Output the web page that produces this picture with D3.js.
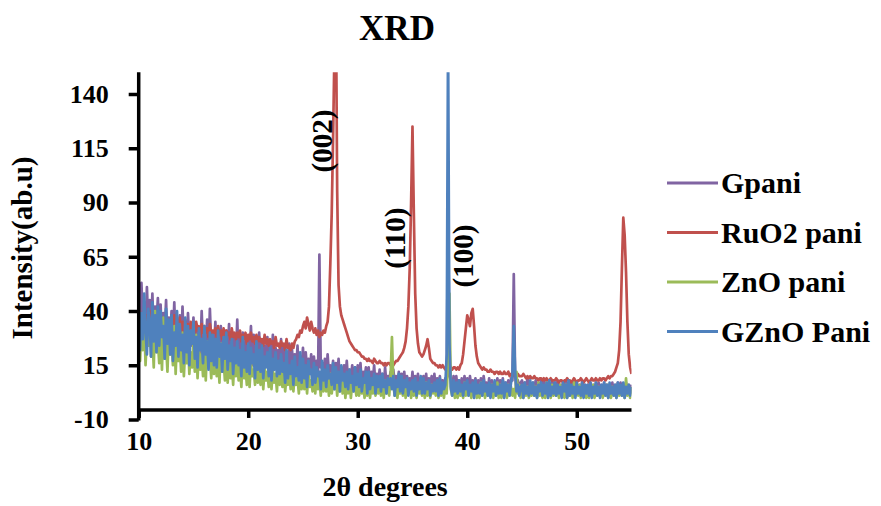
<!DOCTYPE html>
<html><head><meta charset="utf-8">
<script src="https://cdn.jsdelivr.net/npm/d3@7"></script>
<style>body{margin:0;background:#fff}</style>
</head><body><svg id="c" width="881" height="506"></svg>
<script>
const twoTheta = [
10,10.125,10.25,10.375,10.5,10.625,10.75,10.875, 11,11.125,11.25,11.375,11.5,11.625,11.75,11.875,
12,12.125,12.25,12.375,12.5,12.625,12.75,12.875, 13,13.125,13.25,13.375,13.5,13.625,13.75,13.875,
14,14.125,14.25,14.375,14.5,14.625,14.75,14.875, 15,15.125,15.25,15.375,15.5,15.625,15.75,15.875,
16,16.125,16.25,16.375,16.5,16.625,16.75,16.875, 17,17.125,17.25,17.375,17.5,17.625,17.75,17.875,
18,18.125,18.25,18.375,18.5,18.625,18.75,18.875, 19,19.125,19.25,19.375,19.5,19.625,19.75,19.875,
20,20.125,20.25,20.375,20.5,20.625,20.75,20.875, 21,21.125,21.25,21.375,21.5,21.625,21.75,21.875,
22,22.125,22.25,22.375,22.5,22.625,22.75,22.875, 23,23.125,23.25,23.375,23.5,23.625,23.75,23.875,
24,24.125,24.25,24.375,24.5,24.625,24.75,24.875, 25,25.125,25.25,25.375,25.5,25.625,25.75,25.875,
26,26.125,26.25,26.375,26.5,26.625,26.75,26.875, 27,27.125,27.25,27.375,27.5,27.625,27.75,27.875,
28,28.125,28.25,28.375,28.5,28.625,28.75,28.875, 29,29.125,29.25,29.375,29.5,29.625,29.75,29.875,
30,30.125,30.25,30.375,30.5,30.625,30.75,30.875, 31,31.125,31.25,31.375,31.5,31.625,31.75,31.875,
32,32.125,32.25,32.375,32.5,32.625,32.75,32.875, 33,33.125,33.25,33.375,33.5,33.625,33.75,33.875,
34,34.125,34.25,34.375,34.5,34.625,34.75,34.875, 35,35.125,35.25,35.375,35.5,35.625,35.75,35.875,
36,36.125,36.25,36.375,36.5,36.625,36.75,36.875, 37,37.125,37.25,37.375,37.5,37.625,37.75,37.875,
38,38.125,38.25,38.375,38.5,38.625,38.75,38.875, 39,39.125,39.25,39.375,39.5,39.625,39.75,39.875,
40,40.125,40.25,40.375,40.5,40.625,40.75,40.875, 41,41.125,41.25,41.375,41.5,41.625,41.75,41.875,
42,42.125,42.25,42.375,42.5,42.625,42.75,42.875, 43,43.125,43.25,43.375,43.5,43.625,43.75,43.875,
44,44.125,44.25,44.375,44.5,44.625,44.75,44.875, 45,45.125,45.25,45.375,45.5,45.625,45.75,45.875,
46,46.125,46.25,46.375,46.5,46.625,46.75,46.875, 47,47.125,47.25,47.375,47.5,47.625,47.75,47.875,
48,48.125,48.25,48.375,48.5,48.625,48.75,48.875, 49,49.125,49.25,49.375,49.5,49.625,49.75,49.875,
50,50.125,50.25,50.375,50.5,50.625,50.75,50.875, 51,51.125,51.25,51.375,51.5,51.625,51.75,51.875,
52,52.125,52.25,52.375,52.5,52.625,52.75,52.875, 53,53.125,53.25,53.375,53.5,53.625,53.75,53.875,
54,54.125,54.25,54.375,54.5,54.625,54.75,54.875,
55];

const gpani = [
49,30,53,35,44,28,51,33, 45,31,48,27,42,34,46,29, 43,26,39,30,45,25,37,28, 40,27,44,24,36,29,38,23,
42,25,35,22,39,27,33,24, 37,21,34,26,31,20,40,23, 32,22,36,19,41,24,30,20, 35,18,30,23,33,19,28,21,
31,20,34,17,29,22,27,18, 36,17,28,21,30,16,26,19, 27,19,33,15,29,18,25,16, 30,14,26,18,24,15,28,13,
25,16,29,13,23,17,22,14, 27,12,24,16,21,13,25,11, 22,14,20,11,24,12,19,13, 23,10,21,13,18,11,20,9,
19,12,17,9,66,14,16,10, 18,8,20,11,15,9,17,7, 16,9,18,7,14,10,15,8, 17,7,13,9,15,6,14,8,
15,8,16,6,12,9,14,5, 14,6,12,8,15,5,11,7, 13,7,11,5,14,6,10,8, 12,5,13,7,10,4,12,6,
11,6,12,4,10,7,9,5, 12,4,10,6,11,5,9,3, 10,5,11,3,9,6,10,4, 11,4,9,6,10,3,8,5,
9,5,95,10,8,4,10,3, 10,4,8,5,9,3,10,4, 9,3,10,5,8,4,9,2, 8,4,9,3,10,5,7,3,
9,3,8,5,7,2,9,4, 8,4,9,2,7,5,8,3, 9,8,57,10,4,8,3,7, 8,3,7,4,9,2,7,3,
7,4,8,2,7,3,8,2, 8,2,7,4,6,3,8,2, 7,3,8,2,6,4,7,2, 8,2,6,3,7,2,8,3,
7,3,6,2,8,3,6,2, 6,2,7,3,6,2,7,3, 7,3,6,2,7,3,6,2, 6,2,7,3,6,2,7,3,
7,3,6,2,7,3,6,2,
6];

const ruo2 = [
42,36,39,33,41,35,38,34, 40,33,37,35,39,31,36,34, 38,32,36,30,37,33,35,31, 36,32,38,30,35,31,37,29,
35,30,36,31,34,29,35,30, 34,29,35,31,33,28,34,30, 33,30,32,28,34,29,31,30, 32,28,33,29,31,27,32,28,
31,29,30,27,32,28,30,27, 30,28,31,26,29,27,30,25, 29,27,30,26,28,25,29,26, 28,26,27,24,29,25,27,24,
27,25,26,23,28,24,25,23, 26,24,25,22,27,23,24,22, 25,23,26,27,29,28,31,30, 33,35,32,37,34,31,35,32,
30,32,29,31,28,30,29,31, 30,33,35,42,62,85,120,160, 190,95,52,42,38,36,34,32, 30,28,26,25,24,23,22,22,
21,21,20,19,19,18,18,17, 18,17,17,16,18,17,16,16, 17,16,16,15,16,15,16,16, 15,16,15,16,17,17,18,19,
20,21,23,26,32,42,60,90, 125,85,48,32,25,21,20,19, 20,22,24,27,23,18,17,16, 16,15,15,14,15,14,15,14,
13,14,14,15,14,13,14,14, 13,14,13,15,16,20,26,32, 38,36,33,39,41,33,24,19, 16,15,14,13,14,13,13,12,
12,13,12,12,11,12,12,11, 12,11,11,12,11,11,12,10, 11,10,11,10,10,11,10,10, 10,11,10,9,10,9,10,9,
9,10,9,9,8,9,9,8, 9,8,9,8,8,9,8,8, 8,9,8,7,8,8,7,8, 8,9,8,8,7,8,9,8,
7,8,8,9,8,7,8,9, 8,7,8,9,8,8,9,8, 8,9,8,9,9,8,9,10, 9,10,10,11,12,14,16,22,
35,60,83,75,58,35,20,14,
11];

const zno = [
42,17,33,22,38,15,29,24, 36,19,28,14,40,21,26,16, 31,13,37,18,25,12,30,20, 27,15,33,11,29,17,24,12,
30,10,23,16,27,11,21,14, 25,12,29,9,22,13,20,10, 23,8,26,14,19,9,24,11, 21,10,18,7,25,12,17,8,
19,7,22,9,16,6,20,10, 17,8,15,5,21,9,14,6, 18,5,16,10,13,6,19,7, 15,6,17,4,14,8,12,5,
16,4,13,7,11,3,15,6, 12,5,14,3,10,6,13,4, 13,3,11,6,9,2,12,4, 11,4,10,2,12,5,8,3,
10,2,12,4,9,1,11,3, 9,3,8,1,11,2,7,4, 10,1,8,3,7,2,9,0, 8,2,9,0,7,3,6,1,
7,1,9,2,6,0,8,1, 8,0,6,2,7,1,5,2, 7,1,6,0,8,2,5,1, 10,28,6,1,6,0,7,2,
6,1,7,0,5,2,6,0, 7,1,5,0,6,2,4,1, 6,0,7,1,5,0,6,2, 5,1,6,0,7,1,5,0,
6,2,20,48,4,1,6,0, 5,0,6,1,4,0,7,1, 6,1,5,0,4,2,6,0, 5,0,7,1,6,0,5,1,
4,1,6,0,5,1,7,0, 6,0,5,1,4,0,6,1, 5,1,4,0,12,2,6,0, 4,0,6,1,5,0,4,1,
6,1,5,0,7,1,4,0, 5,0,7,1,5,0,6,1, 4,1,5,0,6,1,4,0, 6,0,4,1,5,0,7,1,
5,1,6,0,4,1,5,0, 4,0,5,1,6,0,5,1, 5,1,4,0,5,1,6,0, 6,0,5,1,4,0,6,1,
4,1,6,0,9,1,5,0,
5];

const gzno = [
46,22,39,27,48,31,20,41, 35,19,44,26,38,21,42,24, 40,28,33,18,41,25,36,20, 38,17,30,24,40,19,34,22,
29,16,37,21,33,15,31,25, 35,18,28,14,32,22,27,16, 33,20,26,13,30,17,29,15, 27,14,31,19,25,12,28,18,
30,13,24,17,27,11,23,16, 26,15,22,10,28,14,21,12, 25,11,23,16,20,9,26,13, 22,12,24,9,19,14,21,10,
23,8,18,13,21,10,17,11, 20,12,16,7,22,9,15,11, 17,6,19,10,14,8,21,7, 18,9,15,5,17,11,13,6,
16,7,14,10,12,4,17,8, 13,5,15,9,11,6,16,4, 14,7,12,3,15,8,11,5, 12,4,13,7,10,3,14,6,
11,5,13,3,9,7,12,2, 12,4,9,6,11,2,10,5, 10,3,11,5,8,2,9,6, 9,4,10,1,8,5,11,3,
10,2,8,5,9,1,7,4, 8,3,9,1,7,4,10,2, 9,2,7,4,8,1,6,3, 7,3,8,1,9,2,7,4,
6,20,168,25,5,1,8,3, 7,2,8,3,6,1,7,4, 8,1,6,3,7,0,8,2, 6,2,7,1,8,3,6,1,
7,0,6,3,8,1,5,2, 6,2,8,0,7,3,6,1, 7,10,33,12,3,6,1,5, 6,0,7,2,5,1,8,2,
7,1,5,0,6,3,7,1, 6,2,7,0,8,1,5,2, 7,1,6,2,5,0,7,3, 6,0,8,1,6,2,5,0,
7,2,5,1,7,0,6,2, 6,1,7,0,5,2,7,1, 5,0,6,2,7,1,6,0, 7,2,5,1,6,0,7,2,
6,1,7,0,5,2,6,1,
5];

const seriesNames = ["Gpani", "RuO2 pani", "ZnO pani", "GZnO Pani"];
const seriesColors = ["#8064A2", "#C0504D", "#9BBB59", "#4F81BD"];
const yTickValues = [-10, 15, 40, 65, 90, 115, 140];
const xTickValues = [10, 20, 30, 40, 50];
const peakLabels = ["(002)", "(110)", "(100)"];
const peakLabelTheta = [26.74, 33.41, 39.62];
const peakLabelIntensity = [118.3, 73.6, 65.3];

const seriesValues = [gpani, ruo2, zno, gzno];
const FONT = "'Liberation Serif','Times New Roman',serif";

const svg = d3.select("#c");
const x = d3.scaleLinear().domain([10, 55]).range([138.7, 631.5]);
const y = d3.scaleLinear().domain([-10, 150]).range([419.5, 72.3]);

svg.append("defs").append("clipPath").attr("id", "plot")
  .append("rect").attr("x", x(10)).attr("y", y(150))
  .attr("width", x(55) - x(10)).attr("height", y(-10) - y(150));

const line = d3.line()
  .defined((d, i) => twoTheta[i] !== undefined && d !== undefined)
  .x((d, i) => x(twoTheta[i])).y(d => y(d));
const gData = svg.append("g").attr("clip-path", "url(#plot)");
seriesValues.forEach((vals, k) => {
  gData.append("path").datum(vals)
    .attr("fill", "none").attr("stroke", seriesColors[k])
    .attr("stroke-width", 2.7).attr("stroke-linejoin", "round")
    .attr("d", line);
});

// Y axis
const yAxis = svg.append("g").attr("transform", `translate(${x(10)},0)`)
  .call(d3.axisLeft(y).tickValues(yTickValues).tickSize(10).tickPadding(20).tickFormat(d => String(d)));
yAxis.select(".domain").attr("d", `M0,${y(150)}V${y(-10) + 1}`).attr("stroke", "#000").attr("stroke-width", 3.5);
yAxis.selectAll(".tick line").attr("stroke", "#000").attr("stroke-width", 3.5);
yAxis.selectAll(".tick text").attr("font-family", FONT).attr("font-weight", "bold")
  .attr("font-size", 26).attr("fill", "#000");

// X axis (crossing below the data)
const xAxis = svg.append("g").attr("transform", `translate(0,${y(-5.6)})`)
  .call(d3.axisBottom(x).tickValues(xTickValues).tickSize(8).tickPadding(14).tickFormat(d => String(d)));
xAxis.select(".domain").attr("d", `M${x(10)},0H${x(55)}`).attr("stroke", "#000").attr("stroke-width", 3.5);
xAxis.selectAll(".tick line").attr("stroke", "#000").attr("stroke-width", 3.5);
xAxis.selectAll(".tick text").attr("font-family", FONT).attr("font-weight", "bold")
  .attr("font-size", 26).attr("fill", "#000");

// Title & axis titles
svg.append("text").attr("x", 397).attr("y", 40).attr("text-anchor", "middle")
  .attr("font-family", FONT).attr("font-weight", "bold").attr("font-size", 35).text("XRD");
svg.append("text").attr("x", (x(10) + x(55)) / 2).attr("y", 496).attr("text-anchor", "middle")
  .attr("font-family", FONT).attr("font-weight", "bold").attr("font-size", 28).text("2θ degrees");
svg.append("text").attr("transform", "translate(32,248) rotate(-90)").attr("text-anchor", "middle")
  .attr("font-family", FONT).attr("font-weight", "bold").attr("font-size", 29).text("Intensity(ab.u)");

// Peak labels
peakLabels.forEach((t, i) => {
  svg.append("text")
    .attr("transform", `translate(${x(peakLabelTheta[i])},${y(peakLabelIntensity[i])}) rotate(-90)`)
    .attr("text-anchor", "middle").attr("dominant-baseline", "central")
    .attr("font-family", FONT).attr("font-weight", "bold").attr("font-size", 29).text(t);
});

// Legend
const leg = svg.append("g");
seriesNames.forEach((n, i) => {
  const ly = 183 + i * 49.5;
  leg.append("line").attr("x1", 667).attr("x2", 718).attr("y1", ly).attr("y2", ly)
    .attr("stroke", seriesColors[i]).attr("stroke-width", 3);
  leg.append("text").attr("x", 721).attr("y", ly + 10).attr("font-family", FONT)
    .attr("font-weight", "bold").attr("font-size", 30).text(n);
});
</script></body></html>
